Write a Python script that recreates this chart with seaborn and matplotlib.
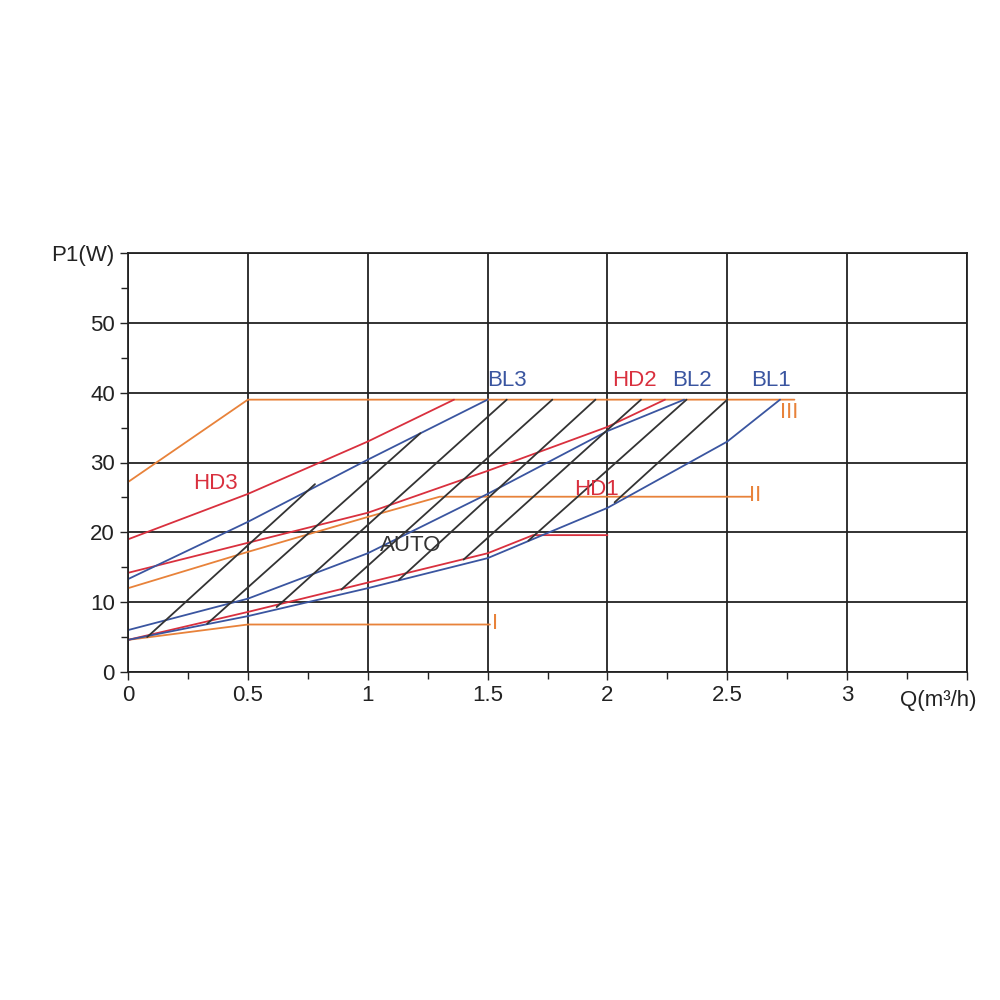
import numpy as np
import matplotlib.pyplot as plt
import seaborn as sns

sns.set_style('white')
plt.rcParams['font.family'] = ['Liberation Sans', 'DejaVu Sans']

ORANGE = '#e8823a'
RED = '#d9303e'
BLUE = '#3a55a0'

# orange speed curves
iii_x = [0, 0.5, 2.78]
iii_y = [27.2, 39, 39]
ii_x = [0, 0.5, 1.0, 1.3, 2.6]
ii_y = [12.0, 17.2, 22.2, 25.1, 25.1]
i_x = [0, 0.5, 1.51]
i_y = [4.6, 6.8, 6.8]

# proportional / constant pressure curves
hd3_x = [0, 0.5, 1.0, 1.36]
hd3_y = [19.0, 25.5, 33.0, 39.0]
bl3_x = [0, 0.5, 1.0, 1.5]
bl3_y = [13.3, 21.5, 30.4, 39.0]
hd2_x = [0, 0.5, 1.0, 1.5, 2.0, 2.24]
hd2_y = [14.2, 18.5, 22.8, 28.8, 35.1, 39.0]
bl2_x = [0, 0.5, 1.0, 1.5, 2.0, 2.32]
bl2_y = [6.0, 10.5, 17.0, 25.5, 34.5, 39.0]
bl1_x = [0, 0.5, 1.0, 1.5, 2.0, 2.5, 2.72]
bl1_y = [4.6, 8.0, 12.0, 16.3, 23.5, 33.0, 39.0]
hd1_x = [0, 0.5, 1.0, 1.5, 1.69, 2.0]
hd1_y = [4.6, 8.6, 12.8, 17.0, 19.6, 19.6]

# AUTO hatch lines (bottom -> top)
auto_x0 = [0.08, 0.33, 0.62, 0.89, 1.13, 1.40, 1.67, 2.03]
auto_y0 = [5.0, 6.9, 9.3, 11.8, 13.2, 16.1, 18.8, 24.3]
auto_x1 = [0.78, 1.22, 1.58, 1.77, 1.95, 2.14, 2.33, 2.50]
auto_y1 = [26.9, 34.2, 39.0, 39.0, 39.0, 39.0, 39.0, 39.0]

fig = plt.figure(figsize=(10, 10), dpi=100)
ax = fig.add_axes([0.128, 0.328, 0.839, 0.419])

for xs, ys, c in [(iii_x, iii_y, ORANGE), (ii_x, ii_y, ORANGE), (i_x, i_y, ORANGE),
                  (hd3_x, hd3_y, RED), (hd2_x, hd2_y, RED), (hd1_x, hd1_y, RED),
                  (bl3_x, bl3_y, BLUE), (bl2_x, bl2_y, BLUE), (bl1_x, bl1_y, BLUE)]:
    sns.lineplot(x=xs, y=ys, color=c, lw=1.3, ax=ax, sort=False, estimator=None)

for x0, y0, x1, y1 in zip(auto_x0, auto_y0, auto_x1, auto_y1):
    sns.lineplot(x=[x0, x1], y=[y0, y1], color='#333333', lw=1.3, ax=ax, estimator=None)

labels = [('BL3', 1.5, 40.2, BLUE), ('HD2', 2.02, 40.2, RED), ('BL2', 2.27, 40.2, BLUE),
          ('BL1', 2.6, 40.2, BLUE), ('HD3', 0.27, 25.5, RED), ('HD1', 1.86, 24.6, RED),
          ('AUTO', 1.05, 16.6, '#333333'), ('III', 2.72, 35.6, ORANGE),
          ('II', 2.59, 23.8, ORANGE), ('I', 1.52, 5.5, ORANGE)]
for t, x, y, c in labels:
    ax.text(x, y, t, color=c, fontsize=16, ha='left', va='bottom')

ax.set_xlim(0, 3.5)
ax.set_ylim(0, 60)
ax.set_xticks(np.arange(0, 3.51, 0.5))
ax.set_xticklabels(['0', '0.5', '1', '1.5', '2', '2.5', '3', ''])
ax.set_yticks(np.arange(0, 61, 10))
ax.set_yticklabels(['0', '10', '20', '30', '40', '50', 'P1(W)'])
ax.set_xticks(np.arange(0.25, 3.5, 0.25), minor=True)
ax.set_yticks(np.arange(5, 60, 10), minor=True)
ax.text(3.38, -2.6, 'Q(m³/h)', fontsize=16, color='#222222', ha='center', va='top')
ax.grid(True, which='major', color='#222222', lw=1.3)
ax.tick_params(which='both', direction='out', colors='#222222', labelsize=16,
               left=True, bottom=True, length=6, width=1)
ax.tick_params(which='minor', length=5)
for s in ax.spines.values():
    s.set_color('#222222')
    s.set_linewidth(1.3)
ax.set_axisbelow(True)

fig.savefig('out.png', dpi=100)
